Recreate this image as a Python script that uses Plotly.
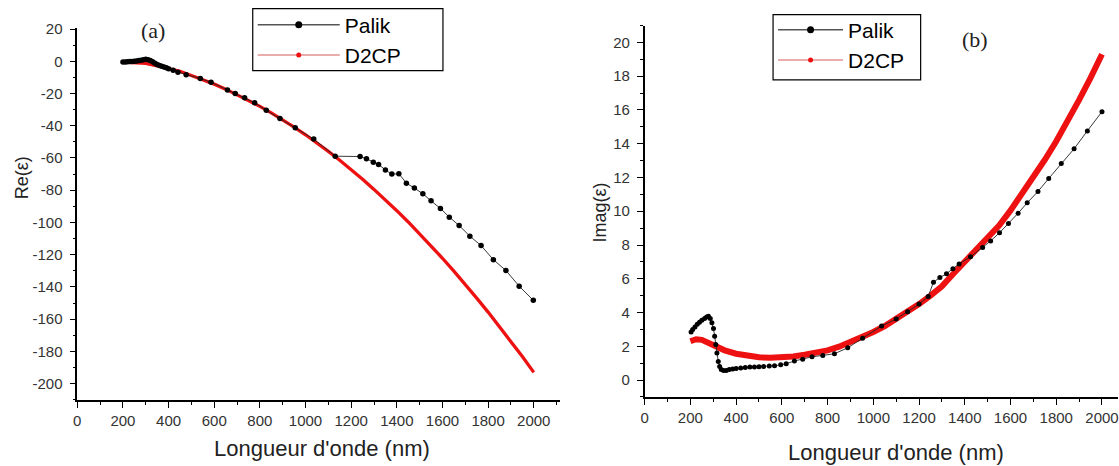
import plotly.graph_objects as go

# ---------------- data ----------------
# Panel (a): real part of permittivity
palik_re_wl = [200, 210, 220, 230, 240, 250, 260, 270, 280, 290, 300, 310, 320, 330, 340,
               350, 360, 370, 380, 390, 400, 420, 441, 477, 539, 586, 658, 692, 733, 777,
               828, 888, 955, 1036, 1130, 1239, 1267, 1297, 1320, 1350, 1378, 1409, 1442,
               1477, 1514, 1550, 1591, 1630, 1673, 1720, 1769, 1823, 1878, 1936, 1998]
palik_re = [-0.5, -0.4, -0.3, -0.2, -0.1, 0.0, 0.2, 0.4, 0.7, 1.0, 1.2, 1.0, 0.5, -0.3, -1.2,
            -2.0, -2.6, -3.1, -3.6, -4.1, -4.6, -5.6, -6.8, -8.3, -10.7, -13.0, -17.8, -20.0,
            -22.7, -25.8, -30.4, -35.5, -41.3, -48.3, -58.9, -59.1, -60.5, -62.6, -64.0,
            -67.4, -70.0, -69.8, -75.6, -78.7, -82.2, -86.6, -91.3, -96.7, -101.9, -108.5,
            -114.3, -123.1, -129.8, -139.5, -148.3]

d2cp_wl = [200, 250, 300, 350, 400, 450, 500, 550, 600, 650, 700, 750, 800, 850, 900, 950,
           1000, 1050, 1100, 1150, 1200, 1250, 1300, 1350, 1400, 1450, 1500, 1550, 1600,
           1650, 1700, 1750, 1800, 1850, 1900, 1950, 2000]
d2cp_re = [-0.5, -0.7, -1.3, -2.8, -4.3, -6.3, -8.8, -11.4, -14.2, -17.3, -20.7, -24.3,
           -28.0, -32.0, -36.3, -40.8, -45.6, -50.6, -55.9, -61.4, -67.2, -73.2, -79.5,
           -86.0, -92.7, -99.7, -107.0, -114.5, -122.2, -130.2, -138.4, -146.9, -155.6,
           -164.6, -173.8, -183.2, -193.0]

# Panel (b): imaginary part of permittivity
palik_im_wl = [203, 210, 220, 230, 240, 250, 262, 271, 279, 287, 294, 301, 306, 311, 316,
               322, 328, 335, 345, 357, 370, 385, 400, 420, 440, 460, 480, 500, 520, 545,
               568, 595, 619, 655, 691, 732, 779, 830, 888, 953, 1036, 1100, 1150, 1200,
               1240, 1263, 1291, 1320, 1348, 1375, 1425, 1478, 1513, 1552, 1591, 1633, 1673,
               1720, 1767, 1822, 1878, 1936, 2000]
palik_im = [2.85, 3.0, 3.15, 3.3, 3.42, 3.55, 3.65, 3.73, 3.78, 3.65, 3.4, 3.05, 2.6, 2.1,
            1.6, 1.1, 0.8, 0.62, 0.56, 0.57, 0.62, 0.66, 0.69, 0.72, 0.75, 0.77, 0.78, 0.79,
            0.8, 0.83, 0.85, 0.9, 0.97, 1.13, 1.23, 1.38, 1.46, 1.56, 1.91, 2.47, 3.2, 3.62,
            4.05, 4.5, 4.95, 5.8, 6.07, 6.3, 6.6, 6.88, 7.3, 7.85, 8.24, 8.73, 9.27, 9.88,
            10.5, 11.17, 11.94, 12.83, 13.7, 14.76, 15.9]

d2cp_im_wl = [200, 225, 250, 300, 350, 400, 450, 500, 550, 600, 650, 700, 750, 800, 850,
              900, 950, 1000, 1050, 1100, 1150, 1200, 1250, 1300, 1350, 1400, 1450, 1500,
              1550, 1600, 1650, 1700, 1750, 1800, 1850, 1900, 1950, 2000]
d2cp_im = [2.30, 2.42, 2.38, 2.05, 1.76, 1.56, 1.43, 1.35, 1.32, 1.34, 1.40, 1.50, 1.62,
           1.76, 1.98, 2.25, 2.52, 2.85, 3.2, 3.6, 4.0, 4.5, 5.0, 5.55, 6.3, 7.0, 7.65, 8.35,
           9.15, 10.05, 11.0, 12.0, 13.05, 14.15, 15.3, 16.6, 17.9, 19.3]

x_ticks = list(range(0, 2001, 200))
re_ticks = list(range(-200, 21, 20))
im_ticks = list(range(0, 21, 2))

series_names = ["Palik", "D2CP"]
panel_labels = ["(a)", "(b)"]
x_title = "Longueur d'onde (nm)"
y_titles = ["Re(ε)", "Imag(ε)"]

# ---------------- figure ----------------
W, H = 1119, 466
FONT = "Arial, Liberation Sans, sans-serif"
SERIF = "Times New Roman, Liberation Serif, serif"
RED = "#ee1111"


def fx(px):
    return (px - 3.4) / 0.997 / W


def fy(py):
    return 1 - (py - 6.45) / 0.984 / H


fig = go.Figure()

# panel (a)
fig.add_trace(go.Scatter(x=d2cp_wl, y=d2cp_re, mode="lines", line=dict(color=RED, width=3.3),
                         showlegend=False, xaxis="x", yaxis="y"))
fig.add_trace(go.Scatter(x=palik_re_wl, y=palik_re, mode="lines+markers",
                         line=dict(color="#222", width=0.9),
                         marker=dict(color="black", size=5.5),
                         showlegend=False, xaxis="x", yaxis="y"))
# panel (b)
fig.add_trace(go.Scatter(x=d2cp_im_wl, y=d2cp_im, mode="lines", line=dict(color=RED, width=6),
                         showlegend=False, xaxis="x2", yaxis="y2"))
fig.add_trace(go.Scatter(x=palik_im_wl, y=palik_im, mode="lines+markers",
                         line=dict(color="#222", width=0.9),
                         marker=dict(color="black", size=5),
                         showlegend=False, xaxis="x2", yaxis="y2"))

# legend entries
for lg, ax in (("legend", "x"), ("legend2", "x2")):
    yax = "y" if ax == "x" else "y2"
    fig.add_trace(go.Scatter(x=[None], y=[None], mode="lines+markers", name=series_names[0],
                             line=dict(color="#555", width=1.5),
                             marker=dict(color="black", size=7),
                             legend=lg, xaxis=ax, yaxis=yax))
    fig.add_trace(go.Scatter(x=[None], y=[None], mode="lines+markers", name=series_names[1],
                             line=dict(color="#e59090", width=1.5),
                             marker=dict(color=RED, size=5),
                             legend=lg, xaxis=ax, yaxis=yax))

axis_common = dict(showline=True, linecolor="black", linewidth=1.5, mirror=False,
                   ticks="outside", ticklen=6, tickwidth=1.3, tickcolor="black",
                   showgrid=False, zeroline=False,
                   tickfont=dict(family=FONT, size=15, color="#333"))

fig.update_layout(
    width=W, height=H,
    margin=dict(l=0, r=0, t=0, b=0),
    paper_bgcolor="white", plot_bgcolor="white",
    showlegend=True,
    xaxis=dict(domain=[fx(76.8), fx(560)], range=[0, 2114], tickvals=x_ticks,
               ticktext=[str(v) for v in x_ticks],
               minor=dict(ticks="outside", ticklen=3, dtick=100, tickcolor="black", tickwidth=1.2),
               anchor="y", **axis_common),
    yaxis=dict(domain=[fy(399), fy(27)], range=[-210.1, 20.9], tickvals=re_ticks,
               ticktext=[str(v) for v in re_ticks],
               minor=dict(ticks="outside", ticklen=3, dtick=10, tickcolor="black", tickwidth=1.2),
               anchor="x", ticklabelstandoff=4, **axis_common),
    xaxis2=dict(domain=[fx(645), 1.0], range=[0, 2070], tickvals=x_ticks,
                ticktext=[str(v) for v in x_ticks], ticklabeloverflow="allow",
                minor=dict(ticks="outside", ticklen=3, dtick=100, tickcolor="black", tickwidth=1.2),
                anchor="y2", **axis_common),
    yaxis2=dict(domain=[fy(396), fy(25)], range=[-1.0, 21.0], tickvals=im_ticks,
                ticktext=[str(v) for v in im_ticks],
                minor=dict(ticks="outside", ticklen=3, dtick=1, tickcolor="black", tickwidth=1.2),
                anchor="x2", ticklabelstandoff=4, **axis_common),
    legend=dict(x=fx(252.5), y=fy(4), xanchor="left", yanchor="top",
                borderwidth=0, bgcolor="rgba(0,0,0,0)",
                font=dict(family=FONT, size=21, color="black"), itemwidth=82),
    legend2=dict(x=fx(773.6), y=fy(9), xanchor="left", yanchor="top",
                 borderwidth=0, bgcolor="rgba(0,0,0,0)",
                 font=dict(family=FONT, size=21, color="black"), itemwidth=65),
)

# legend frames
for (x0, x1, y0, y1) in ((252.5, 443, 8, 70), (773.6, 921.4, 14, 79.3)):
    fig.add_shape(type="rect", xref="paper", yref="paper",
                  x0=fx(x0), x1=fx(x1), y0=fy(y1), y1=fy(y0),
                  line=dict(color="black", width=1.2), fillcolor="white", layer="below")

annotations = [
    dict(text=panel_labels[0], x=fx(152.7), y=fy(30), font=dict(family=SERIF, size=22, color="#222")),
    dict(text=panel_labels[1], x=fx(975.5), y=fy(39), font=dict(family=SERIF, size=22, color="#222")),
    dict(text=x_title, x=fx(322), y=fy(448), font=dict(family=FONT, size=22, color="#222")),
    dict(text=x_title, x=fx(897), y=fy(452), font=dict(family=FONT, size=22, color="#222")),
    dict(text=y_titles[0], x=fx(21), y=fy(177), textangle=-90, font=dict(family=FONT, size=18, color="#222")),
    dict(text=y_titles[1], x=fx(600), y=fy(212), textangle=-90, font=dict(family=FONT, size=18, color="#222")),
]
for a in annotations:
    fig.add_annotation(xref="paper", yref="paper", showarrow=False,
                       xanchor="center", yanchor="middle", **a)

fig.write_html("out.html")
